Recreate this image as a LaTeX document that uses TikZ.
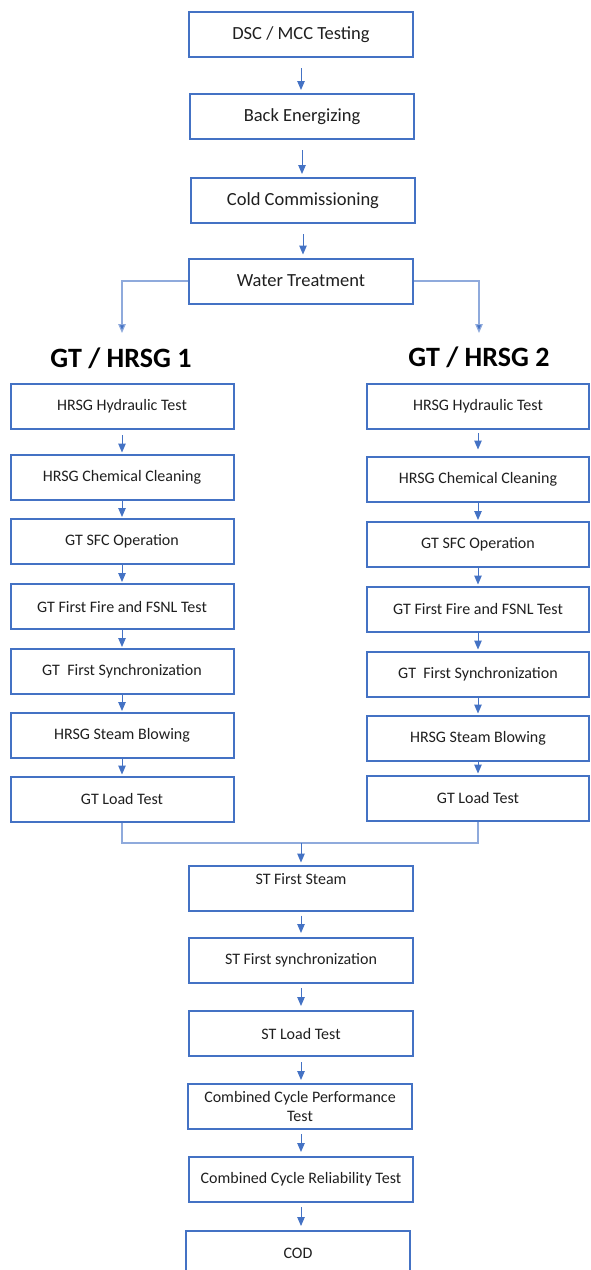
\documentclass[tikz,border=0pt]{standalone}
\usepackage{fontspec}
\setmainfont{Carlito}
\usetikzlibrary{arrows.meta}
\definecolor{boxblue}{HTML}{4472C4}
\definecolor{lineblue}{HTML}{4472C4}
\definecolor{lightblue}{HTML}{8FAADC}
\definecolor{txt}{HTML}{1F1F1F}
\begin{document}
\begin{tikzpicture}[x=1pt,y=-1pt,
  box/.style={draw=boxblue, line width=2pt, minimum height=45pt, inner sep=0pt, text=txt, align=center},
  topbox/.style={box, minimum width=224pt, font=\fontsize{18.5}{22}\selectfont},
  colbox/.style={box, minimum width=223pt, font=\fontsize{16}{19}\selectfont},
  botbox/.style={box, minimum width=224pt, font=\fontsize{16}{19}\selectfont},
  head/.style={inner sep=0pt, text=black, font=\fontsize{28}{32}\selectfont\bfseries},
  arr/.style={draw=lineblue, line width=1pt, -{Triangle[width=7.5pt,length=9pt]}},
  branch/.style={draw=lightblue, line width=1.2pt},
  brarr/.style={branch, -{Triangle[width=7.5pt,length=9pt,fill=lineblue]}}]
\clip (0,0) rectangle (590,1270);
\useasboundingbox (0,0) rectangle (590,1270);

% top chain
\node[topbox] (dsc) at (301,34.5) {DSC / MCC Testing};
\node[topbox] (back) at (302,116.5) {Back Energizing};
\node[topbox] (cold) at (303,200.5) {Cold Commissioning};
\node[topbox] (water) at (301,281) {Water Treatment};

\draw[arr, shorten <=10pt, shorten >=3pt] (dsc.south) -- (dsc.south |- back.north);
\draw[arr, shorten <=10pt, shorten >=3pt] (back.south) -- (back.south |- cold.north);
\draw[arr, shorten <=10pt, shorten >=3pt] (cold.south) -- (cold.south |- water.north);

% headings
\node[head] (h1) at (121,358) {GT / HRSG 1};
\node[head] (h2) at (479,357) {GT / HRSG 2};
\coordinate (b1) at (122,333);
\coordinate (b2) at (479,333);
\draw[brarr] (water.west) -| (b1);
\draw[brarr] (water.east) -| (b2);

% left column
\node[colbox] (l1) at (122,406.5) {HRSG Hydraulic Test};
\node[colbox] (l2) at (122,477) {HRSG Chemical Cleaning};
\node[colbox] (l3) at (122,541.5) {GT SFC Operation};
\node[colbox] (l4) at (122,606.5) {GT First Fire and FSNL Test};
\node[colbox] (l5) at (122,671.5) {GT\ \ First Synchronization};
\node[colbox] (l6) at (122,735.5) {HRSG Steam Blowing};
\node[colbox] (l7) at (122,799) {GT Load Test};

% right column
\node[colbox, minimum width=222pt] (r1) at (478,406.5) {HRSG Hydraulic Test};
\node[colbox, minimum width=222pt] (r2) at (478,479) {HRSG Chemical Cleaning};
\node[colbox, minimum width=222pt] (r3) at (478,544.5) {GT SFC Operation};
\node[colbox, minimum width=222pt] (r4) at (478,609) {GT First Fire and FSNL Test};
\node[colbox, minimum width=222pt] (r5) at (478,674) {GT\ \ First Synchronization};
\node[colbox, minimum width=222pt] (r6) at (478,738) {HRSG Steam Blowing};
\node[colbox, minimum width=222pt] (r7) at (478,798) {GT Load Test};

\draw[arr, shorten <=5pt, shorten >=1pt] (l1.south) -- (l2.north);
\draw[arr, shorten >=1pt] (l2.south) -- (l3.north);
\draw[arr, shorten >=1pt] (l3.south) -- (l4.north);
\draw[arr, shorten >=1pt] (l4.south) -- (l5.north);
\draw[arr, shorten >=1pt] (l5.south) -- (l6.north);
\draw[arr, shorten >=1pt] (l6.south) -- (l7.north);

\draw[arr, shorten <=3pt, shorten >=6pt] (r1.south) -- (r2.north);
\draw[arr, shorten >=1pt] (r2.south) -- (r3.north);
\draw[arr, shorten >=1pt] (r3.south) -- (r4.north);
\draw[arr, shorten >=1pt] (r4.south) -- (r5.north);
\draw[arr, shorten >=1pt] (r5.south) -- (r6.north);
\draw[arr, shorten >=1pt] (r6.south) -- (r7.north);

% bottom chain
\node[botbox] (st1) at (301,888) {ST First Steam\\ ~};
\node[botbox] (st2) at (301,960.5) {ST First synchronization};
\node[botbox] (st3) at (301,1033.5) {ST Load Test};
\node[botbox] (ccp) at (300,1106.5) {Combined Cycle Performance\\Test};
\node[botbox] (ccr) at (301,1179.5) {Combined Cycle Reliability Test};
\node[botbox] (cod) at (298,1253.5) {COD};

% merge
\coordinate (m) at (301,843);
\draw[branch] (l7.south) |- (m) -| (r7.south);
\draw[arr, shorten >=2pt] (m) -- (m |- st1.north);

\draw[arr, shorten <=4pt, shorten >=4pt] (st1.south) -- (st2.north);
\draw[arr, shorten <=4pt, shorten >=4pt] (st2.south) -- (st3.north);
\draw[arr, shorten <=5pt, shorten >=3pt] (st3.south) -- (st3.south |- ccp.north);
\draw[arr, shorten <=4pt, shorten >=4pt] (ccp.south -| st3.south) -- (st3.south |- ccr.north);
\draw[arr, shorten <=4pt, shorten >=4pt] (ccr.south) -- (ccr.south |- cod.north);
\end{tikzpicture}
\end{document}
